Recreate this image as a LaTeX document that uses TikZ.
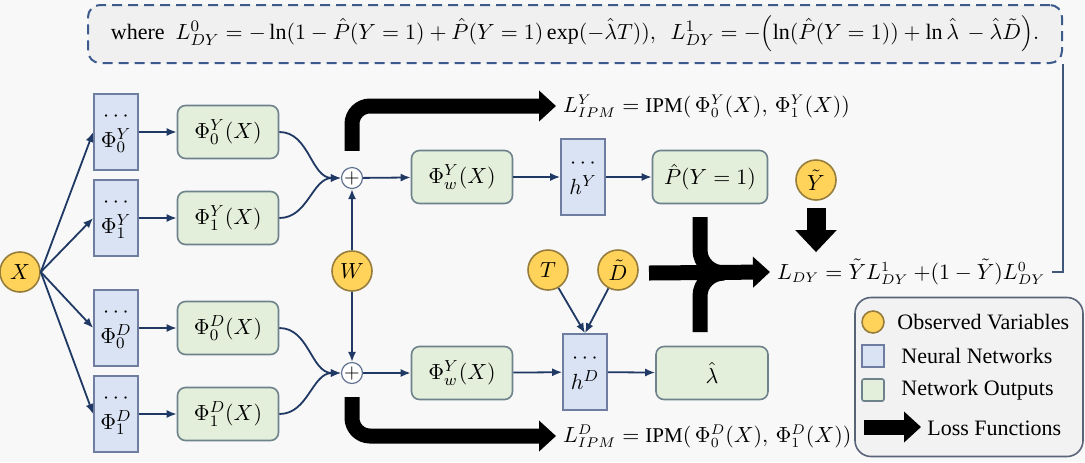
\documentclass[tikz,border=0pt]{standalone}
\usepackage{fontspec}
\setmainfont{Liberation Serif}
\usetikzlibrary{arrows.meta}

\definecolor{bgcol}{RGB}{248,248,248}
\definecolor{navy}{RGB}{31,56,100}
\definecolor{obsfill}{RGB}{255,210,90}
\definecolor{obsdraw}{RGB}{150,125,60}
\definecolor{nnfill}{RGB}{218,227,243}
\definecolor{nndraw}{RGB}{110,125,160}
\definecolor{outfill}{RGB}{227,239,218}
\definecolor{outdraw}{RGB}{110,130,140}
\definecolor{framecol}{RGB}{60,90,140}
\definecolor{legdraw}{RGB}{90,100,120}

\tikzset{
  obs/.style={circle, draw=obsdraw, fill=obsfill, line width=0.8pt, minimum size=20pt, inner sep=0pt},
  nnet/.style={rectangle, draw=nndraw, fill=nnfill, line width=0.8pt, minimum width=22pt, minimum height=38pt, inner sep=1pt, align=center},
  nout/.style={rectangle, rounded corners=4pt, draw=outdraw, fill=outfill, line width=0.8pt, minimum width=50.5pt, minimum height=26.5pt},
  sumnode/.style={circle, draw=navy!70, fill=white, line width=0.6pt, minimum size=10.5pt, inner sep=0pt, font=\normalsize},
  link/.style={navy, line width=0.9pt, -{Latex[length=5pt,width=4pt]}},
  loss/.style={black, line width=7.5pt, -{Triangle[width=15pt,length=8.5pt]}},
  lossbar/.style={black, line width=7.5pt},
  legtext/.style={anchor=west, inner sep=0pt, font=\fontsize{11}{13}\selectfont},
  losstext/.style={anchor=west, font=\fontsize{10.5}{12}\selectfont}
}

\begin{document}
\begin{tikzpicture}[x=0.5pt, y=-0.5pt, font=\fontsize{11}{13}\selectfont]
  \fill[bgcol] (0,0) rectangle (1085,462);
  \useasboundingbox (0,0) rectangle (1085,462);

  % formula frame
  \node[draw=framecol, fill=black!6, line width=1pt, dash pattern=on 5pt off 3pt, rounded corners=6pt,
        minimum width=487pt, minimum height=29pt] (where) at (575,34)
    {where~~$L^0_{DY} = -\ln\bigl(1-\hat{P}(Y=1)+\hat{P}(Y=1)\exp(-\hat{\lambda}T)\bigr),~~
      L^1_{DY} = -\Bigl(\ln\bigl(\hat{P}(Y=1)\bigr)+\ln\hat{\lambda}\,-\hat{\lambda}\tilde{D}\Bigr).$};

  % observed variables
  \node[obs] (X) at (20,272) {$X$};
  \node[obs] (W) at (352,271) {$W$};
  \node[obs] (T) at (548,270) {$T$};
  \node[obs] (Dt) at (618,270) {$\tilde{D}$};
  \node[obs] (Yt) at (816,180) {$\tilde{Y}$};

  % representation networks
  \node[nnet] (nY0) at (116,132) {$\cdots$\\$\Phi_0^Y$};
  \node[nnet] (nY1) at (116,218) {$\cdots$\\$\Phi_1^Y$};
  \node[nnet] (nD0) at (116,328) {$\cdots$\\$\Phi_0^D$};
  \node[nnet] (nD1) at (116,414) {$\cdots$\\$\Phi_1^D$};

  \node[nout] (oY0) at (228,132) {$\Phi_0^Y(X)$};
  \node[nout] (oY1) at (228,218) {$\Phi_1^Y(X)$};
  \node[nout] (oD0) at (228,328) {$\Phi_0^D(X)$};
  \node[nout] (oD1) at (228,414) {$\Phi_1^D(X)$};

  \node[sumnode] (sY) at (352,178) {$+$};
  \node[sumnode] (sD) at (352,373) {$+$};

  \node[nout] (wY) at (462,177) {$\Phi_w^Y(X)$};
  \node[nout] (wD) at (462,373) {$\Phi_w^Y(X)$};

  \node[nnet] (hY) at (583,177) {$\cdots$\\$h^Y$};
  \node[nnet] (hD) at (585,372) {$\cdots$\\$h^D$};

  \node[nout, minimum width=57.5pt] (pY) at (710,177) {$\hat{P}(Y=1)$};
  \node[nout, minimum width=56pt] (lam) at (712,373) {$\hat{\lambda}$};

  % losses
  \node[losstext] (ipmY) at (556,106) {$L^Y_{IPM} = \mathrm{IPM}(\,\Phi_0^Y(X),\,\Phi_1^Y(X))$};
  \node[losstext] (ipmD) at (556,436) {$L^D_{IPM} = \mathrm{IPM}(\,\Phi_0^D(X),\,\Phi_1^D(X))$};
  \node[losstext] (ldy) at (770,272) {$L_{DY} = \tilde{Y}L^1_{DY}\ {+}(1-\tilde{Y})L^0_{DY}$};

  \foreach \n in {nY0,nY1,nD0,nD1}
    \draw[link] (X.east) -- (\n.west);
  \draw[link] (nY0) -- (oY0);
  \draw[link] (nY1) -- (oY1);
  \draw[link] (nD0) -- (oD0);
  \draw[link] (nD1) -- (oD1);
  \draw[link] (oY0.east) to[out=0,in=180] (sY.west);
  \draw[link] (oY1.east) to[out=0,in=180] (sY.west);
  \draw[link] (oD0.east) to[out=0,in=180] (sD.west);
  \draw[link] (oD1.east) to[out=0,in=180] (sD.west);
  \draw[link] (W) -- (sY);
  \draw[link] (W) -- (sD);
  \draw[link] (sY) -- (wY);
  \draw[link] (wY) -- (hY);
  \draw[link] (hY) -- (pY);
  \draw[link] (sD) -- (wD);
  \draw[link] (wD) -- (hD);
  \draw[link] (hD) -- (lam);
  \draw[link] (T) -- (hD.north);
  \draw[link] (Dt) -- (hD.north);

  \draw[navy!85, line width=1.2pt] (where.south east) -- (where.south east |- ldy.east) -- (ldy.east);

  % thick loss arrows
  \draw[loss, rounded corners=9pt] ([yshift=8pt]sY.north) |- (ipmY.west);
  \draw[loss, rounded corners=9pt] ([yshift=-6.5pt]sD.south) |- (ipmD.west);
  \draw[loss, line width=9.5pt, -{Triangle[width=20pt,length=11pt]}] ([yshift=-3.5pt]Yt.south) -- (Yt.south |- ldy.north);
  \coordinate (mtop) at (700,217);
  \coordinate (mbot) at (700,332);
  \coordinate (mjoin) at (724,273);
  \draw[lossbar] (mtop) -- (700,250) to[out=-90,in=180] (mjoin);
  \draw[lossbar] (mbot) -- (700,296) to[out=90,in=180] (mjoin);
  \draw[loss] (649,273) -- (ldy.west);

  % legend
  \node[draw=legdraw, fill=black!5, line width=0.8pt, rounded corners=8pt,
        minimum width=114pt, minimum height=79.5pt] (leg) at (969,377) {};
  \node[obs, minimum size=11pt] (lobs) at (873,322) {};
  \node[nnet, minimum width=11pt, minimum height=11pt] (lnn) at (873,356) {};
  \node[nout, rounded corners=1pt, minimum width=11pt, minimum height=11pt] (lout) at (873,390) {};
  \coordinate (la) at (864,427);
  \coordinate (lb) at (921,427);
  \draw[loss] (la) -- (lb);
  \node[legtext] (tobs) at (897,322) {Observed Variables};
  \node[legtext] (tnn) at (901,356) {Neural Networks};
  \node[legtext] (tout) at (901,390) {Network Outputs};
  \node[legtext] (tloss) at (927,428) {Loss Functions};
\end{tikzpicture}
\end{document}
